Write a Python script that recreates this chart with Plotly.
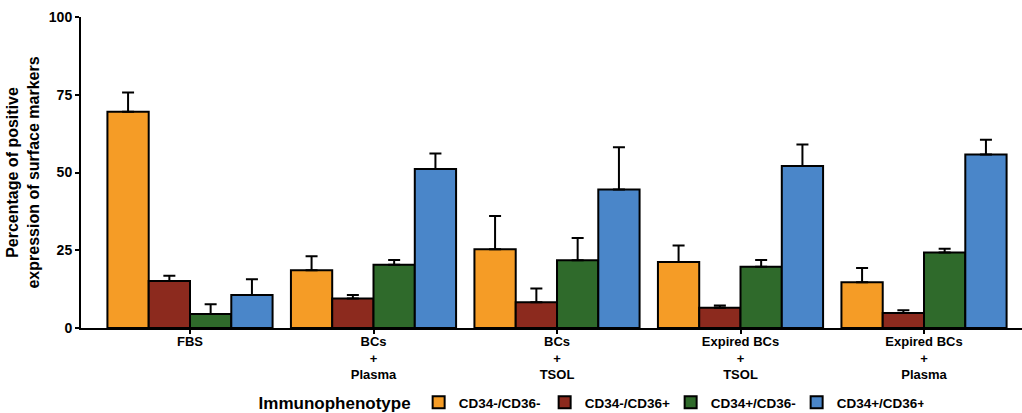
import plotly.graph_objects as go

categories = ["FBS", "BCs<br>+<br>Plasma", "BCs<br>+<br>TSOL", "Expired BCs<br>+<br>TSOL", "Expired BCs<br>+<br>Plasma"]
series_names = ["CD34-/CD36-", "CD34-/CD36+", "CD34+/CD36-", "CD34+/CD36+"]
colors = ["#F59C26", "#8C2A1E", "#2F6A2B", "#4A86C9"]

cd34n_cd36n = [69.5, 18.6, 25.3, 21.2, 14.7]
cd34n_cd36n_err = [6.2, 4.5, 10.7, 5.3, 4.6]
cd34n_cd36p = [15.1, 9.5, 8.3, 6.5, 4.8]
cd34n_cd36p_err = [1.7, 1.1, 4.4, 0.7, 0.9]
cd34p_cd36n = [4.5, 20.3, 21.8, 19.7, 24.3]
cd34p_cd36n_err = [3.1, 1.6, 7.1, 2.2, 1.2]
cd34p_cd36p = [10.6, 51.1, 44.5, 52.1, 55.8]
cd34p_cd36p_err = [5.1, 5.0, 13.6, 6.9, 4.7]

values = [cd34n_cd36n, cd34n_cd36p, cd34p_cd36n, cd34p_cd36p]
errors = [cd34n_cd36n_err, cd34n_cd36p_err, cd34p_cd36n_err, cd34p_cd36p_err]

FONT = "Liberation Sans"

fig = go.Figure()
for name, col, v, e in zip(series_names, colors, values, errors):
    fig.add_trace(go.Bar(
        x=categories, y=v, name=name,
        marker=dict(color=col, line=dict(color="black", width=2)),
        error_y=dict(type="data", array=e, arrayminus=[0] * len(e), symmetric=False,
                     color="black", thickness=2, width=6),
    ))

fig.update_layout(
    width=1022, height=413,
    margin=dict(l=81, r=0, t=17, b=85, autoexpand=False),
    paper_bgcolor="white", plot_bgcolor="white",
    barmode="group", bargap=0.1, bargroupgap=0,
    font=dict(family=FONT, color="black", size=13, weight="bold"),
    showlegend=True,
    legend=dict(
        orientation="h", x=0.541, xanchor="center", y=-0.19, yanchor="top",
        title=dict(text="Immunophenotype", font=dict(size=17, family=FONT, weight="bold"), side="left"),
        font=dict(size=13.5, family=FONT, weight="bold"),
        itemwidth=30, tracegroupgap=0, traceorder="normal", entrywidth=81,
    ),
)

fig.update_xaxes(
    range=[-0.594, 4.534], automargin=False,
    showline=True, linecolor="black", linewidth=2,
    ticks="outside", tickcolor="black", ticklen=4, tickwidth=1.5,
    tickfont=dict(size=13, family=FONT, weight="bold"),
    ticklabelstandoff=-4,
    showgrid=False, zeroline=False,
)
fig.update_yaxes(
    range=[0, 100], tickvals=[0, 25, 50, 75, 100], automargin=False,
    showline=True, linecolor="black", linewidth=2,
    ticks="outside", tickcolor="black", ticklen=4, tickwidth=2,
    tickfont=dict(size=14, family=FONT, weight="bold"),
    showgrid=False, zeroline=False,
    title=dict(text="Percentage of positive<br>expression of surface markers",
               font=dict(size=16, family=FONT, weight="bold"), standoff=5),
)

fig.write_html("out.html", config={"displayModeBar": False},
               post_script="document.body.style.margin='0';document.body.style.overflow='hidden';")
